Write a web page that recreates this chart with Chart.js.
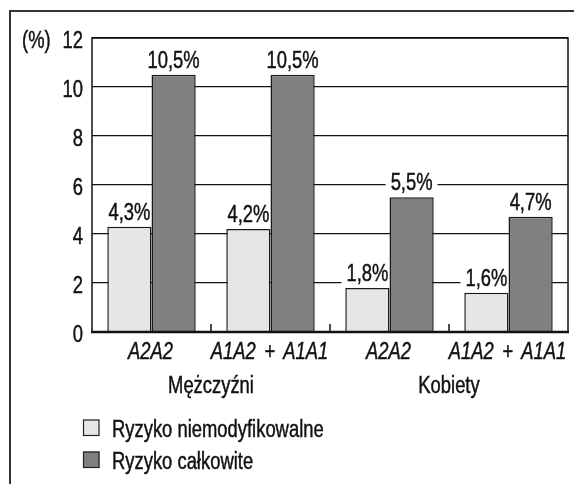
<!DOCTYPE html>
<html><head><meta charset="utf-8">
<script src="https://cdn.jsdelivr.net/npm/chart.js@4/dist/chart.umd.min.js"></script>
<style>
html,body{margin:0;padding:0;background:#fff;}
#wrap{position:relative;width:574px;height:484px;overflow:hidden;}
#frame{position:absolute;left:9px;top:10px;width:580px;height:490px;border-left:2px solid #333;border-top:2px solid #333;pointer-events:none;}
canvas{position:absolute;left:0;top:0;}
</style></head><body>
<div id="wrap"><canvas id="c" width="574" height="484"></canvas><div id="frame"></div></div>
<script>
const categories = ['A2A2', 'A1A2 + A1A1', 'A2A2', 'A1A2 + A1A1'];
const groups = ['Mężczyźni', 'Kobiety'];
const seriesNames = ['Ryzyko niemodyfikowalne', 'Ryzyko całkowite'];
const nonModifiable = [4.3, 4.2, 1.8, 1.6];
const totalRisk = [10.5, 10.5, 5.5, 4.7];
const yMin = 0, yMax = 12, yStep = 2;
const unitLabel = '(%)';

const TXT = '#111';
const FS = 23;
const FAMILY = "'Liberation Sans', Arial, sans-serif";
const SX = 0.80;   // narrow (condensed) rendering of the face
const fmt = v => String(v).replace('.', ',') + '%';

function txt(ctx, s, x, y, align, italic, wordGap) {
  ctx.save();
  ctx.font = (italic ? 'italic ' : '') + FS + 'px ' + FAMILY;
  if (wordGap) ctx.wordSpacing = wordGap + 'px';
  const w = ctx.measureText(s).width * SX;
  const x0 = align === 'center' ? x - w / 2 : align === 'right' ? x - w : x;
  ctx.translate(x0, y);
  ctx.scale(SX, 1);
  ctx.textAlign = 'left';
  ctx.textBaseline = 'alphabetic';
  ctx.fillStyle = TXT;
  ctx.strokeStyle = TXT;
  ctx.lineWidth = 0.45;
  ctx.fillText(s, 0, 0);
  ctx.strokeText(s, 0, 0);
  ctx.restore();
  return w;
}
function textW(ctx, s) {
  ctx.save(); ctx.font = FS + 'px ' + FAMILY;
  const w = ctx.measureText(s).width * SX; ctx.restore(); return w;
}

const deco = {
  id: 'deco',
  beforeDatasetsDraw(chart) {
    const ctx = chart.ctx;
    ctx.save();
    chart.data.datasets.forEach((ds, di) => {
      chart.getDatasetMeta(di).data.forEach((bar, i) => {
        const w = textW(ctx, fmt(ds.data[i]));
        const base = bar.y - 7;
        ctx.fillStyle = '#fff';
        ctx.fillRect(bar.x - w / 2 - 5, base - 20, w + 10, 24);
      });
    });
    ctx.restore();
  },
  afterDatasetsDraw(chart) {
    const ctx = chart.ctx, a = chart.chartArea, xs = chart.scales.x;
    chart.data.datasets.forEach((ds, di) => {
      chart.getDatasetMeta(di).data.forEach((bar, i) => {
        txt(ctx, fmt(ds.data[i]), bar.x, bar.y - 7, 'center');
      });
    });
    ctx.save();
    ctx.strokeStyle = '#111';
    ctx.lineWidth = 1.5;
    ctx.strokeRect(a.left, a.top, a.right - a.left, a.bottom - a.top);
    ctx.lineWidth = 2.5;
    ctx.beginPath();
    ctx.moveTo(a.left - 1, a.bottom);
    ctx.lineTo(a.right + 1, a.bottom);
    ctx.stroke();
    ctx.lineWidth = 1.5;
    for (let i = 1; i < categories.length; i++) {
      const x = (xs.getPixelForValue(i - 1) + xs.getPixelForValue(i)) / 2;
      ctx.beginPath();
      ctx.moveTo(x, a.bottom - 8);
      ctx.lineTo(x, a.bottom);
      ctx.stroke();
    }
    ctx.restore();
  },
  afterDraw(chart) {
    const ctx = chart.ctx, xs = chart.scales.x, ys = chart.scales.y, a = chart.chartArea;
    ys.ticks.forEach(t => {
      txt(ctx, String(t.value), a.left - 9, ys.getPixelForValue(t.value) + 10, 'right');
    });
    txt(ctx, unitLabel, 22, ys.getPixelForValue(yMax) + 10, 'left');
    xs.ticks.forEach(t => {
      txt(ctx, xs.getLabelForValue(t.value), xs.getPixelForValue(t.value) - 1, a.bottom + 26.5, 'center', true, 4);
    });
    groups.forEach((g, gi) => {
      const x = (xs.getPixelForValue(gi * 2) + xs.getPixelForValue(gi * 2 + 1)) / 2;
      txt(ctx, g, x, a.bottom + 60.5, 'center');
    });
    chart.data.datasets.forEach((ds, di) => {
      const top = 419.5 + di * 32;
      ctx.save();
      ctx.fillStyle = ds.backgroundColor;
      ctx.fillRect(83, top, 16.5, 16.5);
      ctx.strokeStyle = '#222';
      ctx.lineWidth = 1.2;
      ctx.strokeRect(83.5, top + 0.5, 15.5, 15.5);
      ctx.restore();
      txt(ctx, ds.label, 112, top + 17, 'left');
    });
  }
};

new Chart(document.getElementById('c'), {
  type: 'bar',
  data: {
    labels: categories,
    datasets: [
      { label: seriesNames[0], data: nonModifiable, backgroundColor: '#e6e6e6', borderColor: '#1a1a1a', borderWidth: 1.5 },
      { label: seriesNames[1], data: totalRisk, backgroundColor: '#808080', borderColor: '#1a1a1a', borderWidth: 1.5 }
    ]
  },
  options: {
    responsive: false,
    animation: false,
    layout: { padding: { top: 38, right: 6, left: 0, bottom: 0 } },
    plugins: { legend: { display: false }, tooltip: { enabled: false } },
    datasets: { bar: { categoryPercentage: 0.743, barPercentage: 1 } },
    scales: {
      x: {
        grid: { display: false },
        border: { display: false },
        ticks: { display: false },
        afterFit(s) { s.height = 152; s.paddingLeft = 0; s.paddingRight = 0; }
      },
      y: {
        min: yMin, max: yMax,
        grid: { color: '#111', lineWidth: 1.3, drawTicks: false },
        border: { display: false },
        ticks: { stepSize: yStep, display: false },
        afterFit(s) { s.width = 92; s.paddingTop = 0; s.paddingBottom = 0; }
      }
    }
  },
  plugins: [deco]
});
</script>
</body></html>
